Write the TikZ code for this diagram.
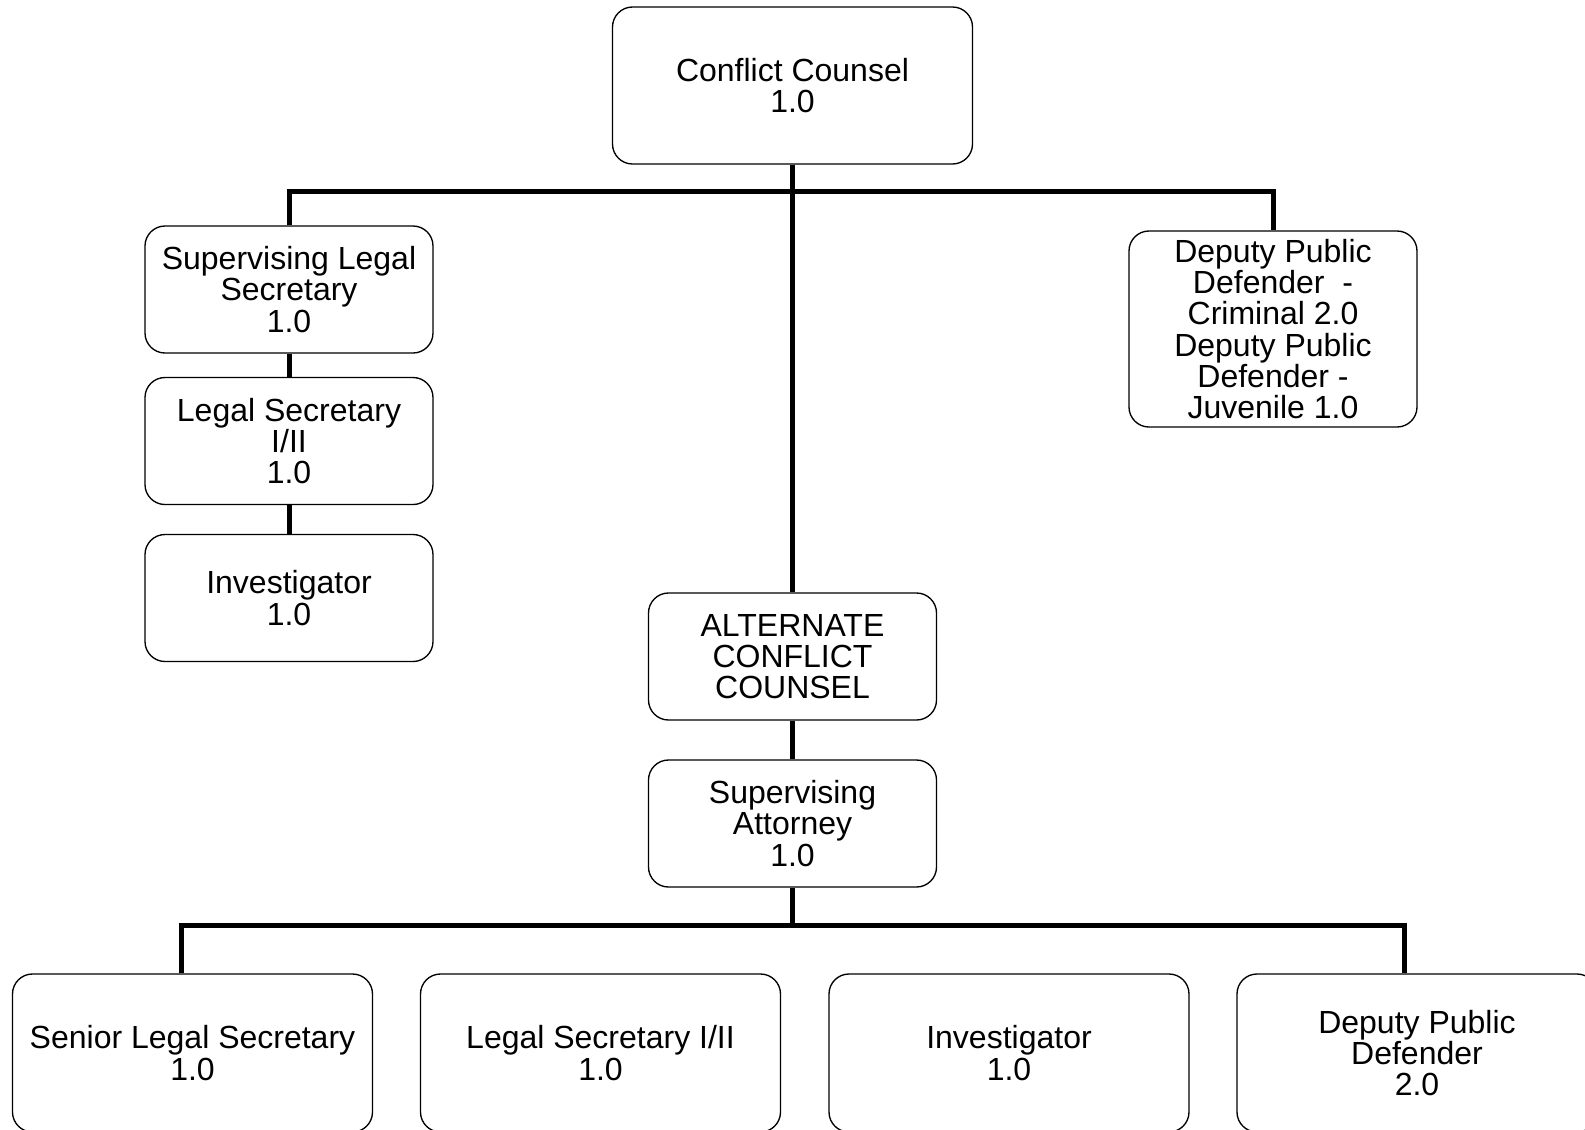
\documentclass[tikz,border=0pt]{standalone}
\usepackage{fontspec}
\setmainfont{Liberation Sans}
\usetikzlibrary{calc}

\tikzset{every picture/.style={line width=0.75pt}}
\tikzset{post/.style={draw, rounded corners=15pt, line width=1pt, align=center, inner sep=0pt, font=\fontsize{24pt}{23.5pt}\selectfont},
         link/.style={line width=3.75pt}}

\begin{document}
\begin{tikzpicture}[x=0.75pt,y=0.75pt,yscale=-1,xscale=1]
\useasboundingbox (0,0) rectangle (1585,1129);
\clip (0,0) rectangle (1585,1129);

%Shape: Rounded Rect [id:cc]
\node [post, minimum width=270pt, minimum height=117.75pt] (cc) at (792.5,85.5) {Conflict Counsel\\1.0};
%Shape: Rounded Rect [id:sls]
\node [post, minimum width=216pt, minimum height=95.25pt] (sls) at (289,289.5) {Supervising Legal\\Secretary\\1.0};
%Shape: Rounded Rect [id:ls]
\node [post, minimum width=216pt, minimum height=95.25pt] (ls) at (289,441) {Legal Secretary\\I/II\\1.0};
%Shape: Rounded Rect [id:inv]
\node [post, minimum width=216pt, minimum height=95.25pt] (inv) at (289,598) {Investigator\\1.0};
%Shape: Rounded Rect [id:dpd]
\node [post, minimum width=216pt, minimum height=147pt] (dpd) at (1273,329) {Deputy Public\\Defender\ \ -\\Criminal 2.0\\Deputy Public\\Defender -\\Juvenile 1.0};
%Shape: Rounded Rect [id:acc]
\node [post, minimum width=216pt, minimum height=95.25pt] (acc) at (792.5,656.5) {ALTERNATE\\CONFLICT\\COUNSEL};
%Shape: Rounded Rect [id:sa]
\node [post, minimum width=216pt, minimum height=95.25pt] (sa) at (792.5,823.5) {Supervising\\Attorney\\1.0};
%Shape: Rounded Rect [id:b1..b4]
\node [post, minimum width=270pt, minimum height=118.5pt] (sls2) at (192.5,1053) {Senior Legal Secretary\\1.0};
\node [post, minimum width=270pt, minimum height=118.5pt] (ls2) at (600.5,1053) {Legal Secretary I/II\\1.0};
\node [post, minimum width=270pt, minimum height=118.5pt] (inv2) at (1009,1053) {Investigator\\1.0};
\node [post, minimum width=270pt, minimum height=118.5pt] (dpd2) at (1417,1053) {Deputy Public\\Defender\\2.0};

%Straight Lines
\coordinate (topbus) at (792.5,191);
\coordinate (lowbus) at (792.5,925);
\draw [link] (cc.south) -- (acc.north);
\draw [link] (sls.north) |- (topbus) -| (dpd.north);
\draw [link] (sls.south) -- (ls.north);
\draw [link] (ls.south) -- (inv.north);
\draw [link] (acc.south) -- (sa.north);
\draw [link] (sa.south) -- (lowbus);
\draw [link] ($(sls2.north)+(-11.5,0)$) |- (lowbus) -| ($(dpd2.north)+(-13,0)$);
\draw [link] ($(ls2.north)+(12.5,0)$) -- ($(ls2.north)+(12.5,0)$ |- lowbus);
\draw [link] ($(inv2.north)+(-37,0)$) -- ($(inv2.north)+(-37,0)$ |- lowbus);

\end{tikzpicture}
\end{document}
